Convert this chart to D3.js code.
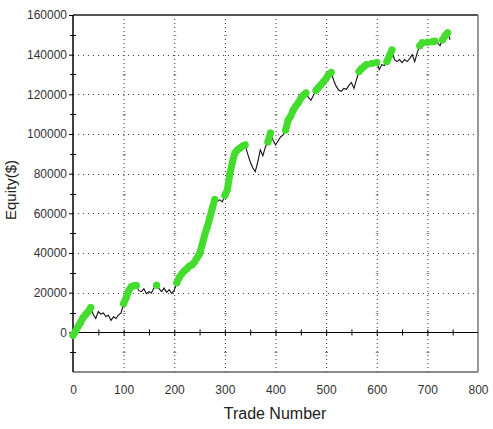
<!DOCTYPE html>
<html>
<head>
<meta charset="utf-8">
<script src="https://cdn.jsdelivr.net/npm/d3@7"></script>
<style>
  html, body { margin: 0; padding: 0; background: #fff; }
  svg { display: block; font-family: "Liberation Sans", Arial, sans-serif; }
</style>
</head>
<body>
<svg id="chart" width="493" height="429"></svg>
<script>
// ---- data ----
const tradeNumbers = [
  0,5,10,15,20,25,30,35,40,45,50,55,60,65,70,75,80,85,90,95,
  100,105,110,115,120,125,130,135,140,145,150,155,160,165,170,175,180,185,190,195,
  200,205,210,215,220,225,230,235,240,245,250,255,260,265,270,275,280,285,290,295,
  300,305,310,315,320,325,330,335,340,345,350,355,360,365,370,375,380,385,390,395,
  400,405,410,415,420,425,430,435,440,445,450,455,460,465,470,475,480,485,490,495,
  500,505,510,515,520,525,530,535,540,545,550,555,560,565,570,575,580,585,590,595,
  600,605,610,615,620,625,630,635,640,645,650,655,660,665,670,675,680,685,690,695,
  700,705,710,715,720,725,730,735,740,745
];
const equity = [
  -1500,500,3000,5000,7500,9000,10500,12500,9000,7000,10500,9200,9800,8000,8600,6000,7800,7000,8800,9800,
  14500,17500,21000,23000,23500,23600,21000,20500,22000,19500,20500,19800,22500,23800,22000,20500,22300,20200,21500,19500,
  21200,25000,27800,29500,31000,32000,33500,34000,35500,37500,39500,44000,49000,53000,57500,62500,67000,66000,66800,65800,
  69000,72000,80000,86000,90500,92000,93000,94000,94500,90000,86000,83000,81000,86000,92000,89000,93500,96000,100500,97000,
  94500,96500,98500,99500,102000,107000,109000,112000,114000,115700,118000,119500,120700,118500,117000,119500,122000,123500,125000,126500,
  128000,130000,131000,127000,124000,122000,121500,123000,122500,124500,126000,123000,127500,131500,133000,134000,135000,134500,135500,135000,
  136000,132500,135000,134500,136500,139500,142400,137500,136500,137500,136000,137500,136500,138000,140000,136500,141000,144500,146000,145500,
  146200,145500,146500,146800,146000,144500,147500,149500,151000,147500
];
const xTickLabels = [0,100,200,300,400,500,600,700,800];
const yTickLabels = [0,20000,40000,60000,80000,100000,120000,140000,160000];
const xTitle = "Trade Number";
const yTitle = "Equity($)";

// ---- chart ----
const svg = d3.select("#chart");
const x = d3.scaleLinear().domain([0, 800]).range([73, 478]);
const y = d3.scaleLinear().domain([-20000, 160000]).range([372, 15]);

const data = tradeNumbers.map((t, i) => ({ t, v: equity[i] }));
let runMax = -Infinity;
data.forEach(d => { d.high = d.v >= runMax; if (d.v > runMax) runMax = d.v; });

// grid (dotted)
const grid = svg.append("g");
grid.selectAll("line.vg").data(xTickLabels.filter(v => v > 0 && v < 800)).join("line")
  .attr("x1", d => x(d) + 0.5).attr("x2", d => x(d) + 0.5)
  .attr("y1", y(160000)).attr("y2", y(-20000))
  .attr("stroke", "#333").attr("stroke-width", 1).attr("stroke-dasharray", "1,3");
grid.selectAll("line.hg").data(yTickLabels.filter(v => v > 0 && v < 160000)).join("line")
  .attr("x1", x(0)).attr("x2", x(800))
  .attr("y1", d => Math.round(y(d)) + 0.5).attr("y2", d => Math.round(y(d)) + 0.5)
  .attr("stroke", "#333").attr("stroke-width", 1).attr("stroke-dasharray", "1,4");
// small cross marks along vertical grid lines
const minorY = d3.range(-10000, 160000, 10000).filter(v => v % 20000 !== 0);
xTickLabels.filter(v => v > 0 && v < 800).forEach(xv => {
  grid.selectAll(null).data(minorY).join("line")
    .attr("x1", x(xv) - 1).attr("x2", x(xv) + 2)
    .attr("y1", d => Math.round(y(d)) + 0.5).attr("y2", d => Math.round(y(d)) + 0.5)
    .attr("stroke", "#888").attr("stroke-width", 1);
});

// frame
svg.append("line").attr("x1", x(0)).attr("x2", x(800)).attr("y1", 15).attr("y2", 15)
  .attr("stroke", "#555").attr("stroke-width", 2);
svg.append("line").attr("x1", x(800)).attr("x2", x(800)).attr("y1", 15).attr("y2", 372)
  .attr("stroke", "#777").attr("stroke-width", 1.5);
svg.append("line").attr("x1", x(0)).attr("x2", x(800)).attr("y1", 372).attr("y2", 372)
  .attr("stroke", "#666").attr("stroke-width", 1.5);

// zero line with ticks
const zeroY = Math.round(y(0)) + 0.5;
svg.append("line").attr("x1", x(0)).attr("x2", x(800)).attr("y1", zeroY).attr("y2", zeroY)
  .attr("stroke", "#000").attr("stroke-width", 1.2);
svg.append("g").selectAll("line").data(d3.range(50, 800, 50)).join("line")
  .attr("x1", d => x(d) + 0.5).attr("x2", d => x(d) + 0.5)
  .attr("y1", zeroY - 3).attr("y2", zeroY + 3)
  .attr("stroke", "#000").attr("stroke-width", 1);

// left axis
const yAxis = d3.axisLeft(y).tickValues(yTickLabels).tickSize(4).tickPadding(2).tickFormat(d3.format("d"));
const ya = svg.append("g").attr("transform", `translate(${x(0)},0)`).call(yAxis);
ya.select(".domain").attr("stroke", "#000").attr("stroke-width", 1.5).attr("d", `M0,${y(-20000)}V${y(160000)}`);
ya.selectAll(".tick line").attr("stroke", "#000");
ya.selectAll(".tick text").attr("font-size", 12).attr("fill", "#333")
  .attr("font-family", "Liberation Sans, Arial, sans-serif");
// minor ticks on left axis
svg.append("g").selectAll("line").data(d3.range(-10000, 160000, 10000).filter(v => v % 20000 !== 0)).join("line")
  .attr("x1", x(0) - 3).attr("x2", x(0) + 3)
  .attr("y1", d => Math.round(y(d)) + 0.5).attr("y2", d => Math.round(y(d)) + 0.5)
  .attr("stroke", "#000").attr("stroke-width", 1);

// x tick labels (below frame)
const xAxis = d3.axisBottom(x).tickValues(xTickLabels).tickSize(0).tickPadding(13).tickFormat(d3.format("d"));
const xa = svg.append("g").attr("transform", `translate(0,${y(-20000)})`).call(xAxis);
xa.select(".domain").remove();
xa.selectAll(".tick text").attr("font-size", 12).attr("fill", "#333")
  .attr("font-family", "Liberation Sans, Arial, sans-serif");

// equity line
svg.append("path").datum(data)
  .attr("fill", "none").attr("stroke", "#111").attr("stroke-width", 1.1)
  .attr("d", d3.line().x(d => x(d.t)).y(d => y(d.v)));

// new-high markers: dense band through consecutive highs, plus a dot on each high
const green = "#44dd2e";
svg.append("path").datum(data)
  .attr("fill", "none").attr("stroke", green).attr("stroke-width", 7)
  .attr("stroke-linecap", "round").attr("stroke-linejoin", "round")
  .attr("d", d3.line().defined(d => d.high).x(d => x(d.t)).y(d => y(d.v)));
svg.append("g").selectAll("circle").data(data.filter(d => d.high)).join("circle")
  .attr("cx", d => x(d.t)).attr("cy", d => y(d.v)).attr("r", 3.5)
  .attr("fill", green);

// titles
svg.append("text").attr("x", 275).attr("y", 419).attr("text-anchor", "middle")
  .attr("font-size", 16).attr("fill", "#222").text(xTitle);
svg.append("text").attr("transform", "translate(16,190) rotate(-90)").attr("text-anchor", "middle")
  .attr("font-size", 15).attr("fill", "#222").text(yTitle);
</script>
</body>
</html>
